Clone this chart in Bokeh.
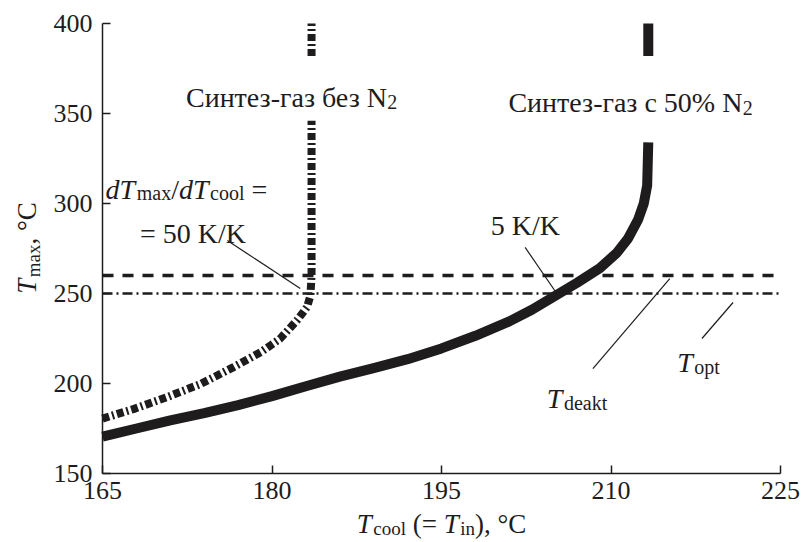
import math
from bokeh.plotting import figure
from bokeh.models import Label, FixedTicker, Range1d
from bokeh.embed import file_html
from bokeh.resources import INLINE

# ---- data ----
# Synthesis gas without N2 (thick dash-dot curve); NaN = gap behind the label
no_n2_x = [165.0, 167.8, 170.7, 173.7, 176.6, 179.0, 180.7, 182.2, 183.1, 183.4, 183.5, 183.5, float("nan"), 183.5, 183.5]
no_n2_T = [180.5, 185.9, 192.4, 199.8, 209.1, 217.4, 224.8, 235.0, 242.4, 248.9, 260.0, 346.0, float("nan"), 382.0, 400.0]

# Synthesis gas with 50% N2 (thick solid curve)
n50_x = [165.0, 168.0, 171.0, 174.0, 177.0, 180.0, 183.0, 186.0, 189.0, 192.0, 195.0, 198.0, 201.0, 203.0,
         205.0, 207.0, 209.0, 210.5, 211.5, 212.4, 212.9, 213.2, 213.3, float("nan"), 213.3, 213.3]
n50_T = [170.5, 175.0, 179.5, 183.5, 188.0, 193.0, 198.5, 203.8, 208.5, 213.5, 219.5, 226.5, 234.5, 241.0,
         248.5, 256.0, 264.0, 272.5, 280.5, 291.0, 300.0, 310.0, 334.0, float("nan"), 382.0, 400.0]

T_deakt = 260.0
T_opt = 250.0

x_ticks = [165, 180, 195, 210, 225]
y_ticks = [150, 200, 250, 300, 350, 400]

# leader lines (x0, T0) -> (x1, T1)
lead_x0 = [176.05, 202.4, 208.4, 218.05]
lead_T0 = [279.4, 275.6, 208.3, 225.0]
lead_x1 = [182.5, 205.2, 215.2, 220.8]
lead_T1 = [252.8, 250.0, 258.3, 245.0]

INK = "#1e1c1d"
FONT = "Liberation Serif"

# ---- layout: the frame fills the canvas, axes are fixed at x=165 / T=150 ----
W, H = 802, 542
FL, FR, FT, FB = 102, 780, 23, 473
x0, x1 = x_ticks[0], x_ticks[-1]
y0, y1 = y_ticks[0], y_ticks[-1]
sx = (FR - FL) / (x1 - x0)
sy = (FB - FT) / (y1 - y0)

p = figure(width=W, height=H,
           x_range=Range1d(x0 - FL / sx, x1 + (W - FR) / sx),
           y_range=Range1d(y0 - (H - FB) / sy, y1 + FT / sy),
           output_backend="svg", toolbar_location=None, min_border=0)
p.outline_line_color = None
p.grid.visible = False
p.background_fill_color = "white"
p.border_fill_color = "white"

for ax in (p.xaxis[0], p.yaxis[0]):
    ax.axis_line_color = INK
    ax.axis_line_width = 1.5
    ax.major_tick_line_color = INK
    ax.major_tick_line_width = 1.5
    ax.major_tick_in = 8
    ax.major_tick_out = 0
    ax.minor_tick_line_color = None
    ax.major_label_text_font = FONT
    ax.major_label_text_font_size = "26px"
    ax.major_label_text_color = INK
p.xaxis[0].ticker = FixedTicker(ticks=x_ticks)
p.yaxis[0].ticker = FixedTicker(ticks=y_ticks)
p.xaxis[0].fixed_location = y0
p.yaxis[0].fixed_location = x0
p.xaxis[0].bounds = (x0, x1)
p.yaxis[0].bounds = (y0, y1)
p.xaxis[0].major_label_standoff = 8
p.yaxis[0].major_label_standoff = 10

# reference lines T_deakt (dashed) and T_opt (dash-dot)
p.line([x0, x1], [T_deakt, T_deakt], line_color=INK, line_width=3.5, line_dash="11 9")
p.line([x0, x1], [T_opt, T_opt], line_color=INK, line_width=2.5, line_dash="10 4 2 4")

# curves
p.line(n50_x, n50_T, line_color=INK, line_width=10, line_join="round", line_cap="butt")
p.line(no_n2_x, no_n2_T, line_color=INK, line_width=8, line_dash="7 3 2 3", line_join="round", line_cap="butt")

# leaders
p.segment(lead_x0, lead_T0, lead_x1, lead_T1, line_color=INK, line_width=1.2)

# ---- rich text helper (main text + subscripts) ----
EM = {' ': .25, '-': .333, '/': .278, '=': .564, '(': .333, ')': .333, ',': .25, '°': .4, '%': .833,
      'N': .722, 'K': .722, 'C': .667, 'T': .611,
      'a': .444, 'c': .444, 'd': .5, 'e': .444, 'i': .278, 'k': .5, 'l': .278, 'm': .778, 'n': .5,
      'o': .5, 'p': .5, 't': .278, 'x': .5,
      'С': .667, 'и': .535, 'н': .535, 'т': .446, 'е': .444, 'з': .401, 'г': .411, 'а': .444, 'б': .5, 'с': .444}


def tw(s, size):
    return sum(EM.get(c, 0.5) for c in s) * size


def rich(x, y, runs, angle=0.0):
    total = sum(tw(t, s) for t, s, _, _ in runs)
    off = -total / 2
    for t, s, st, dy in runs:
        lead = len(t) - len(t.lstrip(" "))
        start = off + tw(" " * lead, s)
        if angle == 0:
            xo, yo = start, dy
        else:
            xo, yo = -dy, start
        p.add_layout(Label(x=x, y=y, x_offset=xo, y_offset=yo, text=t.strip(" "), angle=angle,
                           text_font=FONT, text_font_size=f"{s}px", text_font_style=st,
                           text_color=INK, text_align="left", text_baseline="alphabetic"))
        off += tw(t, s)


BIG, SUB = 28, 20
rich(181.73, 359.0, [("Синтез-газ без N", BIG, "normal", 0), ("2", SUB, "normal", -5)])
rich(211.73, 356.0, [("Синтез-газ с 50% N", BIG, "normal", 0), ("2", SUB, "normal", -5)])
rich(172.43, 308.0, [("dT", BIG, "italic", 0), ("max", SUB, "normal", -4), ("/", BIG, "normal", 0),
                     ("dT", BIG, "italic", 0), ("cool", SUB, "normal", -4), (" =", BIG, "normal", 0)])
rich(173.0, 283.2, [("= 50 K/K", BIG, "normal", 0)])
rich(202.43, 287.8, [("5 K/K", BIG, "normal", 0)])
rich(206.99, 191.7, [("T", BIG, "italic", 0), ("deakt", SUB, "normal", -5)])
rich(217.74, 211.7, [("T", BIG, "italic", 0), ("opt", SUB, "normal", -5)])

# axis titles
AX, AXS = 27, 19
rich(195.0, 122.2, [("T", AX, "italic", 0), ("cool", AXS, "normal", -5), (" (= ", AX, "normal", 0),
                    ("T", AX, "italic", 0), ("in", AXS, "normal", -5), ("), °C", AX, "normal", 0)])
rich(158.36, 275.3, [("T", AX, "italic", 0), ("max", AXS, "normal", -6), (", °C", AX, "normal", 0)],
     angle=math.pi / 2)

open("out.html", "w").write(file_html(p, INLINE))
